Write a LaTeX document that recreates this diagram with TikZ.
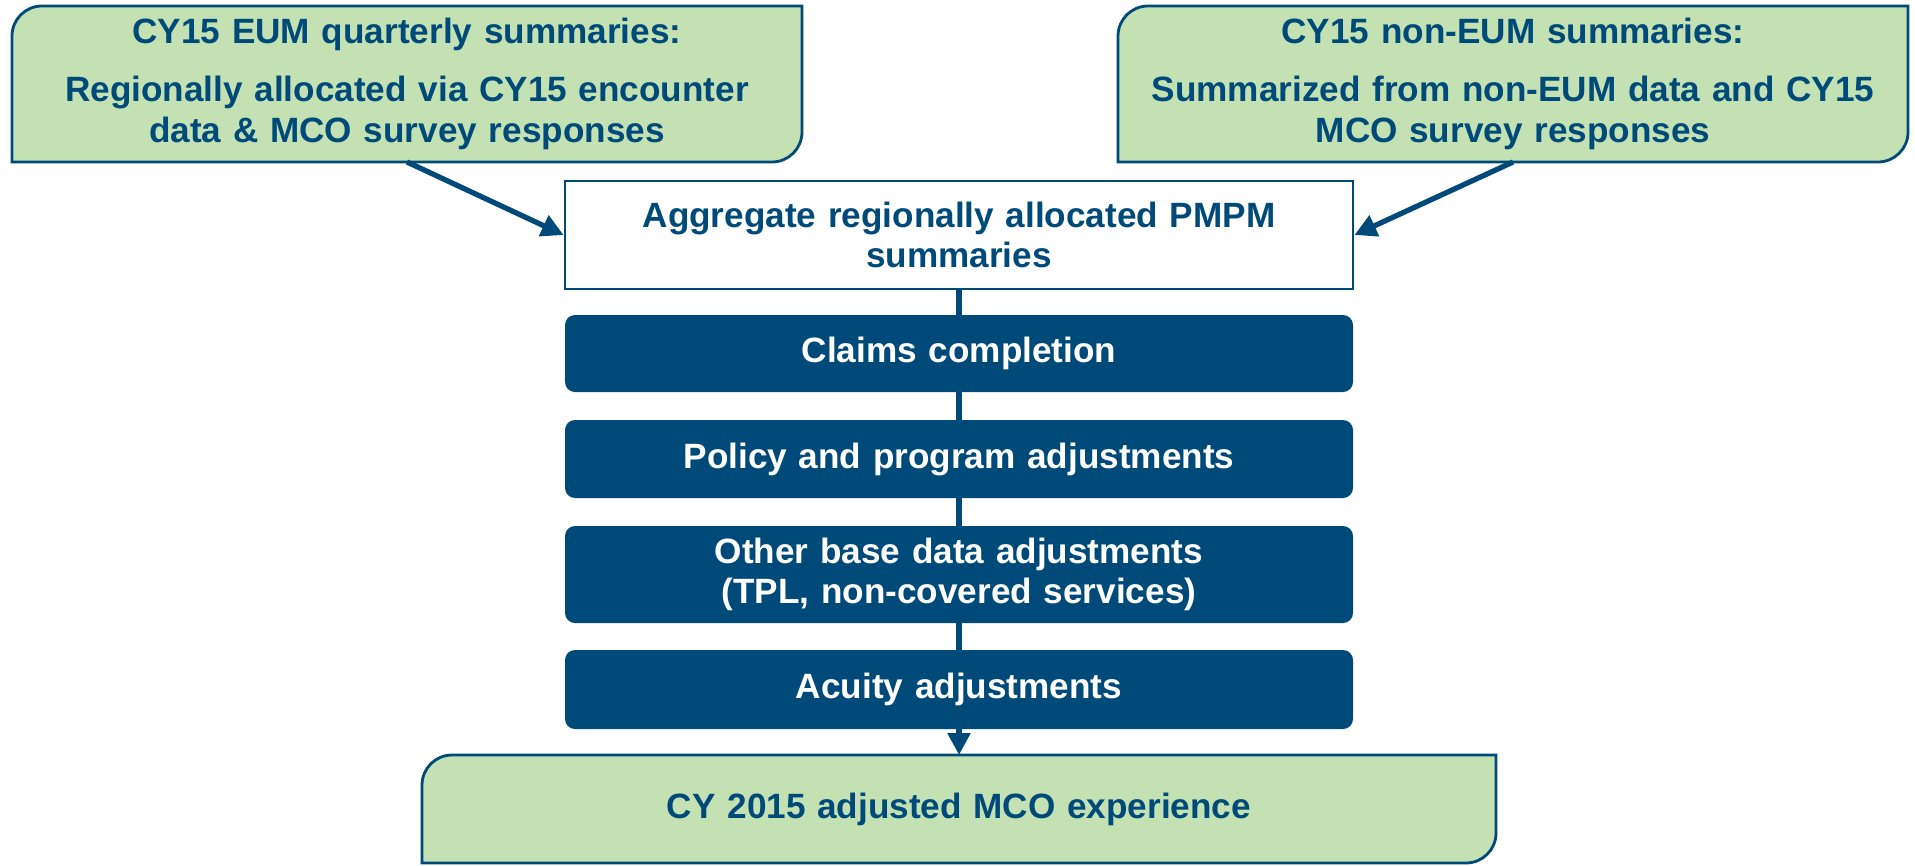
\documentclass[tikz,border=0pt]{standalone}
\usepackage{fontspec}
\setmainfont{Liberation Sans}
\usetikzlibrary{arrows.meta,backgrounds}
\definecolor{navy}{RGB}{0,74,122}
\definecolor{leafgreen}{RGB}{195,225,179}
\newcommand{\leafframe}[1]{%
  \path[leaf] (#1.west) [rounded corners=0.3cm] -- (#1.north west) -- (#1.north)
    [sharp corners] -- (#1.north east) -- (#1.east)
    [rounded corners=0.3cm] -- (#1.south east) -- (#1.south)
    [sharp corners] -- (#1.south west) -- cycle;}
\begin{document}
\begin{tikzpicture}[
    font=\fontsize{10}{11.5}\selectfont\bfseries,
    src/.style={text=navy, align=center, text width=7.9cm, minimum height=1.56cm, inner sep=0pt, outer sep=0pt},
    sink/.style={text=navy, align=center, text width=10.74cm, minimum height=1.08cm, inner sep=0pt, outer sep=0pt},
    agg/.style={draw=navy, line width=0.8pt, text=navy, align=center, text width=7.88cm, minimum height=1.08cm, inner sep=0pt},
    stepbox/.style={fill=navy, rounded corners=0.1cm, text=white, align=center, text width=7.88cm, inner sep=0pt, outer sep=0pt},
    link/.style={draw=navy, line width=1.5pt},
    tip/.style={-{Triangle[length=0.22cm,width=0.22cm]}},
    leaf/.style={fill=leafgreen, draw=navy, line width=0.8pt}
  ]
  \useasboundingbox (0,0) rectangle (19.15,8.65);
  \draw
    (4.07,7.81) node[src] (eum) {CY15 EUM quarterly summaries:\\[5pt]
      Regionally allocated via CY15 encounter\\ data \& MCO survey responses}
    (15.13,7.81) node[src] (noneum) {CY15 non-EUM summaries:\\[5pt]
      Summarized from non-EUM data and CY15\\ MCO survey responses}
    (9.59,6.30) node[agg] (agg) {Aggregate regionally allocated PMPM\\ summaries}
    (9.59,5.115) node[stepbox, minimum height=0.77cm] (claims) {Claims completion}
    (9.59,4.06) node[stepbox, minimum height=0.78cm] (policy) {Policy and program adjustments}
    (9.59,2.905) node[stepbox, minimum height=0.97cm] (other) {Other base data adjustments\\ (TPL, non-covered services)}
    (9.59,1.755) node[stepbox, minimum height=0.79cm] (acuity) {Acuity adjustments}
    (9.59,0.56) node[sink] (result) {CY 2015 adjusted MCO experience};
  \begin{scope}[on background layer]
    \leafframe{eum}
    \leafframe{noneum}
    \leafframe{result}
  \end{scope}
  \begin{scope}[link]
    \draw[tip] (eum.south) -- (agg.west);
    \draw[tip] (noneum.south) -- (agg.east);
    \draw (agg) -- (claims);
    \draw (claims) -- (policy);
    \draw (policy) -- (other);
    \draw (other) -- (acuity);
    \draw[tip] (acuity) -- (result);
  \end{scope}
\end{tikzpicture}
\end{document}
